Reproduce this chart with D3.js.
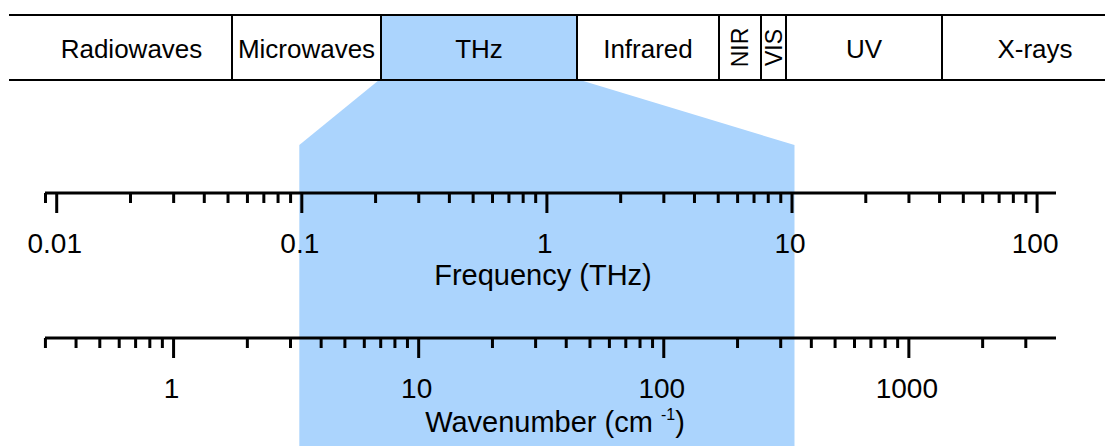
<!DOCTYPE html>
<html>
<head>
<meta charset="utf-8">
<script src="https://cdn.jsdelivr.net/npm/d3@7"></script>
<style>
  html, body { margin: 0; padding: 0; background: #fff; }
  svg { display: block; font-family: "Liberation Sans", Arial, sans-serif; }
</style>
</head>
<body>
<svg id="chart" width="1105" height="446"></svg>
<script>
// Spectral regions shown in the top strip (relative widths of each cell)
const bandNames  = ["Radiowaves", "Microwaves", "THz", "Infrared", "NIR", "VIS", "UV", "X-rays"];
const bandWidths = [201, 149, 196, 142, 42, 25, 156, 186];
const bandVertical = ["NIR", "VIS"];
const highlightBand = "THz";

// Terahertz window on the frequency axis (THz)
const thzRange = [0.1, 10];

// Frequency axis ticks (THz)
const freqMajor = [0.01, 0.1, 1, 10, 100];
const freqMinor = [0.009,
  0.02, 0.03, 0.04, 0.05, 0.06, 0.07, 0.08, 0.09,
  0.2, 0.3, 0.4, 0.5, 0.6, 0.7, 0.8, 0.9,
  2, 3, 4, 5, 6, 7, 8, 9,
  20, 30, 40, 50, 60, 70, 80, 90];
const freqDomain = [0.009, 120];

// Wavenumber axis ticks (cm^-1)
const waveMajor = [1, 10, 100, 1000];
const waveMinor = [0.3, 0.4, 0.5, 0.6, 0.7, 0.8, 0.9,
  2, 3, 4, 5, 6, 7, 8, 9,
  20, 30, 40, 50, 60, 70, 80, 90,
  200, 300, 400, 500, 600, 700, 800, 900,
  2000, 3000];
const THZ_PER_WAVENUMBER = 0.0299792458; // 1 cm^-1 in THz

// ---- layout ----
const W = 1105, H = 446;
const blue = "#abd4fd";
const strip = { x0: 9, x1: 1105, y0: 15, y1: 80, cellX0: 31, cellX1: 1128 };
const axisX = [45, 1056];
const freqY = 193, waveY = 338;
const fanY = 145;

const svg = d3.select("#chart");

const x = d3.scaleLog().domain(freqDomain).range(axisX);
const xWave = d3.scaleLog()
  .domain(freqDomain.map(f => f / THZ_PER_WAVENUMBER))
  .range(axisX);

// cell boundaries of the top strip
const cellScale = d3.scaleLinear()
  .domain([0, d3.sum(bandWidths)])
  .range([strip.cellX0, strip.cellX1]);
const cum = d3.cumsum([0, ...bandWidths]);
const cells = bandNames.map((name, i) => ({
  name,
  x0: cellScale(cum[i]),
  x1: cellScale(cum[i + 1])
}));

// ---- highlighted THz window ----
const hi = cells.find(c => c.name === highlightBand);
const fx0 = x(thzRange[0]) - 2, fx1 = x(thzRange[1]) + 3;
svg.append("rect")
  .attr("x", hi.x0).attr("y", strip.y0)
  .attr("width", hi.x1 - hi.x0).attr("height", strip.y1 - strip.y0)
  .attr("fill", blue);
svg.append("path")
  .attr("d", d3.line()([
    [hi.x0 - 2, strip.y1], [hi.x1 + 3, strip.y1],
    [fx1, fanY], [fx1, H], [fx0, H], [fx0, fanY]
  ]) + "Z")
  .attr("fill", blue);

// ---- top strip ----
const stripG = svg.append("g");
[strip.y0, strip.y1].forEach(y => {
  stripG.append("line")
    .attr("x1", strip.x0).attr("x2", strip.x1)
    .attr("y1", y).attr("y2", y)
    .attr("stroke", "#000").attr("stroke-width", 2);
});
cells.slice(1).forEach(c => {
  stripG.append("line")
    .attr("x1", c.x0).attr("x2", c.x0)
    .attr("y1", strip.y0).attr("y2", strip.y1)
    .attr("stroke", "#000").attr("stroke-width", 2);
});
const midY = (strip.y0 + strip.y1) / 2;
cells.forEach(c => {
  const cx = (c.x0 + c.x1) / 2;
  if (bandVertical.includes(c.name)) {
    stripG.append("text")
      .attr("transform", `translate(${cx + 8},${midY}) rotate(-90)`)
      .attr("text-anchor", "middle")
      .attr("font-size", 23)
      .attr("fill", "#000")
      .text(c.name);
  } else {
    stripG.append("text")
      .attr("x", cx).attr("y", 58)
      .attr("text-anchor", "middle")
      .attr("font-size", 26)
      .attr("fill", "#000")
      .text(c.name);
  }
});

// ---- log axes ----
function drawAxis(scale, y, major, minor) {
  const g = svg.append("g").attr("transform", `translate(0,${y})`);
  g.append("g")
    .call(d3.axisBottom(scale).tickValues(minor).tickSize(10).tickSizeOuter(0).tickFormat(""))
    .call(s => s.select(".domain").remove());
  const gm = g.append("g")
    .call(d3.axisBottom(scale).tickValues(major).tickSize(20).tickPadding(20)
      .tickSizeOuter(0).tickFormat(d3.format("~g")))
    .call(s => s.select(".domain").remove());
  gm.selectAll("text")
    .attr("font-size", 28)
    .attr("font-family", "Liberation Sans, Arial, sans-serif")
    .attr("fill", "#000")
    .attr("dx", -2);
  g.selectAll(".tick line").attr("stroke", "#000").attr("stroke-width", 3);
  g.append("line")
    .attr("x1", axisX[0]).attr("x2", axisX[1])
    .attr("stroke", "#000").attr("stroke-width", 3);
  return g;
}
drawAxis(x, freqY, freqMajor, freqMinor);
drawAxis(xWave, waveY, waveMajor, waveMinor);

// axis titles
svg.append("text")
  .attr("x", 543).attr("y", 285)
  .attr("text-anchor", "middle")
  .attr("font-size", 29)
  .attr("fill", "#000")
  .text("Frequency (THz)");

const wt = svg.append("text")
  .attr("x", 555).attr("y", 432)
  .attr("text-anchor", "middle")
  .attr("font-size", 29)
  .attr("fill", "#000");
wt.append("tspan").text("Wavenumber (cm ");
wt.append("tspan").attr("font-size", 16).attr("dy", -12).text("-1");
wt.append("tspan").attr("dy", 12).text(")");
</script>
</body>
</html>
